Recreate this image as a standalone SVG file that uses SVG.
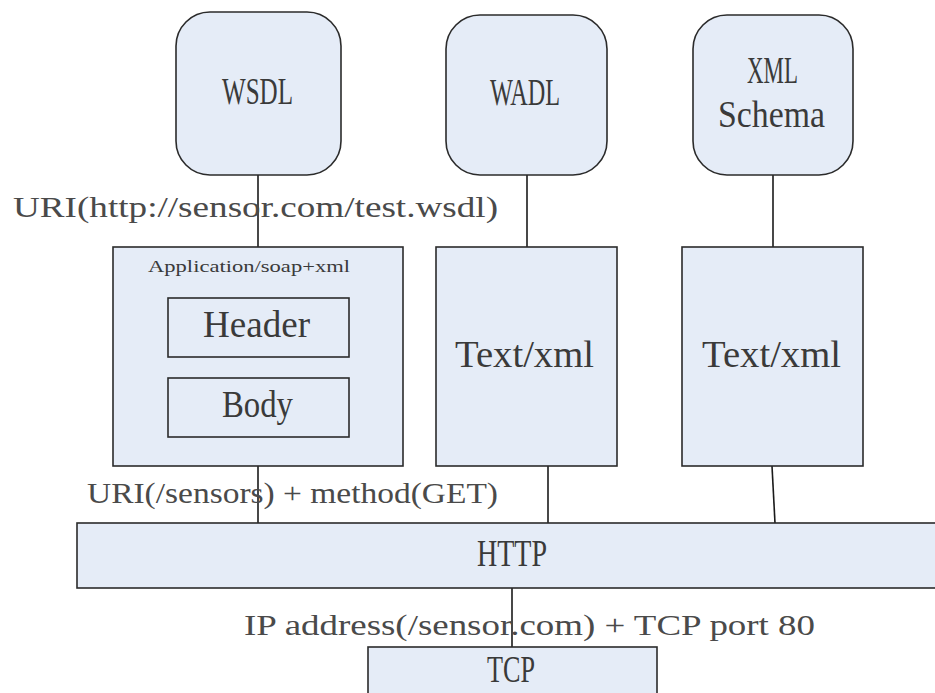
<svg xmlns="http://www.w3.org/2000/svg" width="935" height="693" viewBox="0 0 935 693">
<style>
.box{fill:#e5ecf7;stroke:#2b2b2b;stroke-width:1.6}
.ln{stroke:#1a1a1a;stroke-width:1.6;fill:none}
text{font-family:"Liberation Serif","Noto Sans CJK SC",serif;fill:#3a3a3a}
.big{font-size:37px;text-anchor:middle}
.lbl{font-size:30px;fill:#4a4a4a}
</style>
<rect width="935" height="693" fill="#ffffff"/>
<g id="connectors">
<line class="ln" x1="258" y1="175" x2="258" y2="247"/>
<line class="ln" x1="527" y1="175" x2="527" y2="247"/>
<line class="ln" x1="773" y1="175" x2="773" y2="247"/>
<line class="ln" x1="258" y1="466" x2="258" y2="523"/>
<line class="ln" x1="548" y1="466" x2="548" y2="523"/>
<line class="ln" x1="772" y1="466" x2="775" y2="523"/>
<line class="ln" x1="512" y1="588" x2="512" y2="647"/>
</g>
<g id="wsdl">
<rect class="box" x="176" y="12" width="165" height="163" rx="34" ry="34"/>
<text class="big" x="257.5" y="104" textLength="71" lengthAdjust="spacingAndGlyphs">WSDL</text>
</g>
<g id="wadl">
<rect class="box" x="446" y="15" width="161" height="160" rx="34" ry="34"/>
<text class="big" x="525" y="105" textLength="70" lengthAdjust="spacingAndGlyphs">WADL</text>
</g>
<g id="xmlschema">
<rect class="box" x="693" y="15" width="160" height="160" rx="34" ry="34"/>
<text class="big" x="772.5" y="83" font-size="35" textLength="51" lengthAdjust="spacingAndGlyphs">XML</text>
<text class="big" x="771.5" y="127" textLength="107" lengthAdjust="spacingAndGlyphs">Schema</text>
</g>
<g id="soap">
<rect class="box" x="113" y="247" width="290" height="219"/>
<text x="148" y="272" font-size="17" textLength="202" lengthAdjust="spacingAndGlyphs">Application/soap+xml</text>
</g>
<g id="header">
<rect class="box" x="168" y="298" width="181" height="59"/>
<text class="big" x="256.5" y="337" textLength="107" lengthAdjust="spacingAndGlyphs">Header</text>
</g>
<g id="body">
<rect class="box" x="168" y="378" width="181" height="59"/>
<text class="big" x="257.5" y="417" textLength="71" lengthAdjust="spacingAndGlyphs">Body</text>
</g>
<g id="textxml1">
<rect class="box" x="436" y="247" width="181" height="219"/>
<text class="big" x="524.5" y="367" textLength="139" lengthAdjust="spacingAndGlyphs">Text/xml</text>
</g>
<g id="textxml2">
<rect class="box" x="682" y="247" width="181" height="219"/>
<text class="big" x="771.5" y="367" textLength="139" lengthAdjust="spacingAndGlyphs">Text/xml</text>
</g>
<g id="http">
<rect class="box" x="77" y="523" width="870" height="65"/>
<text class="big" x="512" y="566" textLength="70" lengthAdjust="spacingAndGlyphs">HTTP</text>
</g>
<g id="tcp">
<rect class="box" x="368" y="647" width="289" height="60"/>
<text class="big" x="511" y="682" font-size="35" textLength="48" lengthAdjust="spacingAndGlyphs">TCP</text>
</g>
<g id="labels">
<text class="lbl" x="13" y="217" font-size="26" textLength="485" lengthAdjust="spacingAndGlyphs">URI(http://sensor.com/test.wsdl)</text>
<text class="lbl" x="87" y="503" font-size="32" textLength="411" lengthAdjust="spacingAndGlyphs">URI(/sensors) + method(GET)</text>
<text class="lbl" x="244" y="635" font-size="33" textLength="571" lengthAdjust="spacingAndGlyphs">IP address(/sensor.com) + TCP port 80</text>
</g>
</svg>
